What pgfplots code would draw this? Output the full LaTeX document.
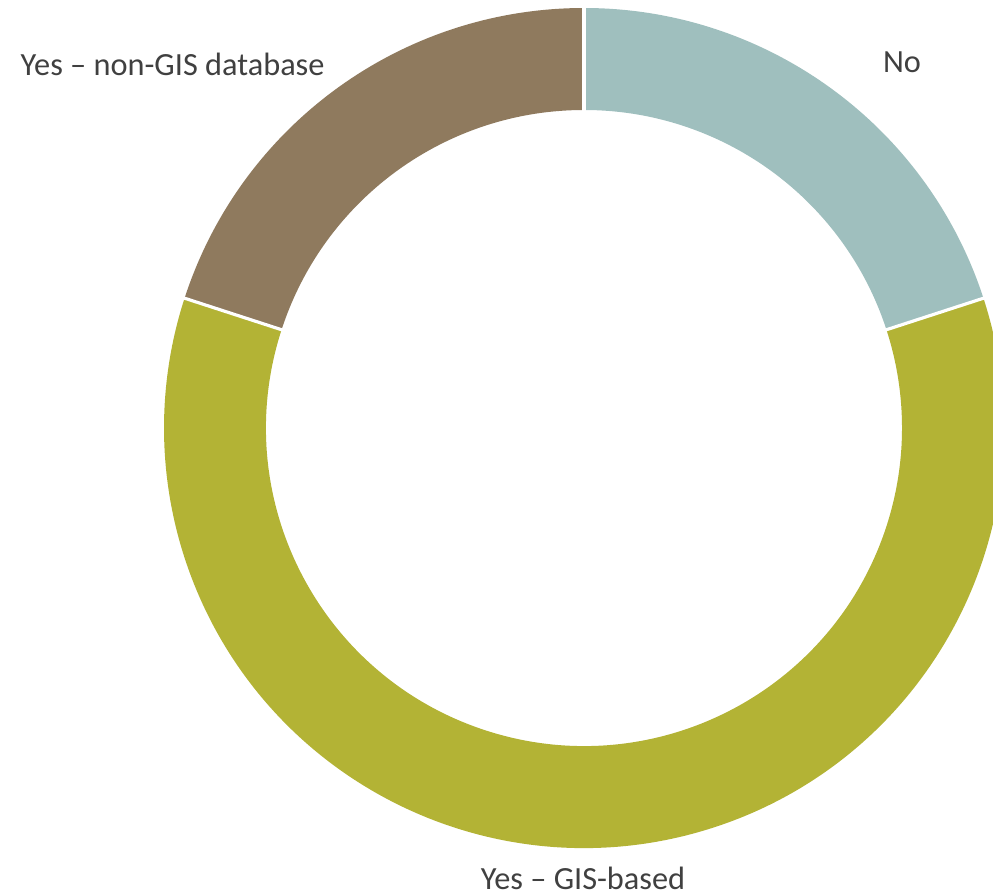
\documentclass[border=0pt]{standalone}
\usepackage{pgfplots}
\pgfplotsset{compat=1.18}
\usepackage{pgfplotstable}
\usepackage{fontspec}
\setmainfont{Carlito}
\definecolor{cNo}{HTML}{9FBFBE}
\definecolor{cGIS}{HTML}{B3B335}
\definecolor{cNon}{HTML}{8F7A5E}
\definecolor{txt}{HTML}{404040}
\pgfplotstableread{
label value
No 20
GIS 60
Non 20
}\donutdata
\pgfplotstablegetelem{0}{value}\of\donutdata \global\let\vNo\pgfplotsretval
\pgfplotstablegetelem{1}{value}\of\donutdata \global\let\vGIS\pgfplotsretval
\pgfplotstablegetelem{2}{value}\of\donutdata \global\let\vNon\pgfplotsretval
\pgfmathsetmacro\aA{90}
\pgfmathsetmacro\aB{90-3.6*\vNo}
\pgfmathsetmacro\aC{\aB-3.6*\vGIS}
\pgfmathsetmacro\aD{\aC-3.6*\vNon}
\begin{document}
\begin{tikzpicture}
\begin{axis}[name=ax, hide axis, x=0.1mm, y=0.1mm, xmin=0, xmax=993, ymin=0, ymax=894,
  clip=true]
\addplot[draw=none] coordinates {(0,0) (993,894)};
\fill[cNo] ([shift={(\aA:4.2cm)}]axis cs:584,466) arc[start angle=\aA, end angle=\aB, radius=4.2cm]
  -- ([shift={(\aB:3.18cm)}]axis cs:584,466) arc[start angle=\aB, end angle=\aA, radius=3.18cm] -- cycle;
\fill[cGIS] ([shift={(\aB:4.2cm)}]axis cs:584,466) arc[start angle=\aB, end angle=\aC, radius=4.2cm]
  -- ([shift={(\aC:3.18cm)}]axis cs:584,466) arc[start angle=\aC, end angle=\aB, radius=3.18cm] -- cycle;
\fill[cNon] ([shift={(\aC:4.2cm)}]axis cs:584,466) arc[start angle=\aC, end angle=\aD, radius=4.2cm]
  -- ([shift={(\aD:3.18cm)}]axis cs:584,466) arc[start angle=\aD, end angle=\aC, radius=3.18cm] -- cycle;
\draw[white, line width=0.9pt] ([shift={(\aA:3.1cm)}]axis cs:584,466) -- ([shift={(\aA:4.3cm)}]axis cs:584,466);
\draw[white, line width=0.9pt] ([shift={(\aB:3.1cm)}]axis cs:584,466) -- ([shift={(\aB:4.3cm)}]axis cs:584,466);
\draw[white, line width=0.9pt] ([shift={(\aC:3.1cm)}]axis cs:584,466) -- ([shift={(\aC:4.3cm)}]axis cs:584,466);
\node[anchor=west, txt, font=\fontsize{9.2}{11}\selectfont, inner sep=0pt] at (axis cs:20,830) {Yes – non-GIS database};
\node[txt, font=\fontsize{9.2}{11}\selectfont, inner sep=0pt] at (axis cs:902,832) {No};
\node[txt, font=\fontsize{9.2}{11}\selectfont, inner sep=0pt] at (axis cs:583,16) {Yes – GIS-based};
\end{axis}
\pgfresetboundingbox
\path (ax.south west) rectangle (ax.north east);
\end{tikzpicture}
\end{document}
